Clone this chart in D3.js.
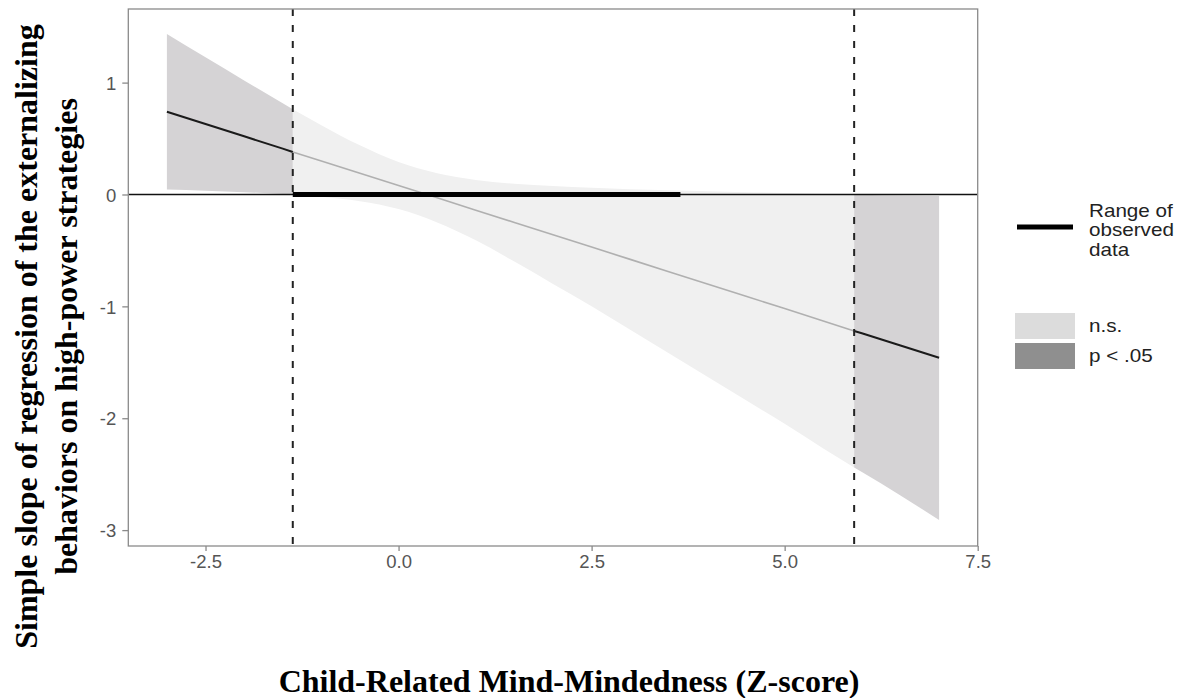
<!DOCTYPE html>
<html lang="en">
<head>
  <meta charset="UTF-8">
  <title>Johnson-Neyman plot: child-related mind-mindedness</title>
  <script src="https://d3js.org/d3.v7.min.js"></script>
  <style>
    body {
      margin: 0;
      background-color: #fff;
    }

    .tick text {
      font-family: "Liberation Sans", Arial, sans-serif;
      font-size: 18.5px;
      fill: #555;
    }

    .title {
      font-family: "Liberation Serif", "Times New Roman", serif;
      font-weight: bold;
      font-size: 32px;
      fill: #000;
    }

    .legend text {
      font-family: "Liberation Sans", Arial, sans-serif;
      font-size: 17.5px;
      fill: #222;
    }
  </style>
</head>
<body>

<div id="chart"></div>

<script>
  // moderator values and the simple slope with its confidence band
  const modX  = [-3, -2.5, -2, -1.5, -1.37, -1, -0.5, 0, 0.5, 1, 1.5, 2, 2.5, 3, 3.5, 4, 4.5, 5, 5.5, 5.9, 6, 6.5, 7];
  const slope = [0.74, 0.63, 0.52, 0.41, 0.38, 0.30, 0.19, 0.08, -0.03, -0.14, -0.25, -0.36, -0.47, -0.58, -0.69, -0.80, -0.91, -1.02, -1.13, -1.22, -1.24, -1.35, -1.46];
  const lower = [0.045, 0.034, 0.021, 0.005, 0.0, -0.02, -0.06, -0.13, -0.25, -0.41, -0.60, -0.80, -1.00, -1.21, -1.42, -1.63, -1.84, -2.05, -2.27, -2.44, -2.48, -2.69, -2.91];
  const upper = [1.435, 1.226, 1.019, 0.816, 0.763, 0.62, 0.44, 0.29, 0.19, 0.13, 0.096, 0.075, 0.06, 0.047, 0.037, 0.028, 0.02, 0.013, 0.005, 0.0, -0.002, -0.008, -0.014];

  const jnBounds = [-1.37, 5.90];      // where the band crosses zero
  const observedRange = [-1.37, 3.65]; // range of observed data

  const xTicks = [-2.5, 0, 2.5, 5, 7.5];
  const yTicks = [-3, -2, -1, 0, 1];

  const legendKeys = ["n.s.", "p < .05"];
  const legendFill = ["#dcdcdc", "#8f8f8f"];

  const width = 1191;
  const height = 698;
  const panel = { left: 128.3, right: 977.7, top: 9, bottom: 546 };

  const svg = d3.select("#chart")
    .append("svg")
    .attr("width", width)
    .attr("height", height);

  const x = d3.scaleLinear().domain([-3.5, 7.5]).range([panel.left, panel.right]);
  const y = d3.scaleLinear().domain([-3.142, 1.658]).range([panel.bottom, panel.top]);

  // plain hyphen for negatives, like the original
  const hyphen = f => d => f(d).replace("\u2212", "-");

  const rows = modX.map((v, i) => ({ x: v, slope: slope[i], lo: lower[i], hi: upper[i] }));

  // split into significant (outside the bounds) and n.s. pieces, sharing the boundary points
  const leftSig = rows.filter(d => d.x <= jnBounds[0]);
  const midNs = rows.filter(d => d.x >= jnBounds[0] && d.x <= jnBounds[1]);
  const rightSig = rows.filter(d => d.x >= jnBounds[1]);

  const area = d3.area()
    .curve(d3.curveMonotoneX)
    .x(d => x(d.x))
    .y0(d => y(d.lo))
    .y1(d => y(d.hi));

  const line = d3.line()
    .x(d => x(d.x))
    .y(d => y(d.slope));

  const plot = svg.append("g");

  plot.append("path").datum(midNs).attr("d", area).attr("fill", "#f0f0f0");
  [leftSig, rightSig].forEach(seg => {
    plot.append("path").datum(seg).attr("d", area).attr("fill", "#d5d3d5");
  });

  plot.append("path").datum(midNs).attr("d", line)
    .attr("fill", "none").attr("stroke", "#b0b0b0").attr("stroke-width", 1.6);
  [leftSig, rightSig].forEach(seg => {
    plot.append("path").datum(seg).attr("d", line)
      .attr("fill", "none").attr("stroke", "#1a1a1a").attr("stroke-width", 2);
  });

  // zero line
  plot.append("line")
    .attr("x1", panel.left).attr("x2", panel.right)
    .attr("y1", y(0)).attr("y2", y(0))
    .attr("stroke", "#111").attr("stroke-width", 1.6);

  // range of observed data
  plot.append("line")
    .attr("x1", x(observedRange[0])).attr("x2", x(observedRange[1]))
    .attr("y1", y(0)).attr("y2", y(0))
    .attr("stroke", "#000").attr("stroke-width", 5);

  // Johnson-Neyman boundaries
  plot.selectAll(".jn")
    .data(jnBounds)
    .enter()
    .append("line")
    .attr("x1", d => x(d)).attr("x2", d => x(d))
    .attr("y1", panel.top).attr("y2", panel.bottom)
    .attr("stroke", "#222").attr("stroke-width", 2)
    .attr("stroke-dasharray", "7,9");

  // panel border
  svg.append("rect")
    .attr("x", panel.left).attr("y", panel.top)
    .attr("width", panel.right - panel.left)
    .attr("height", panel.bottom - panel.top)
    .attr("fill", "none").attr("stroke", "#8a8a8a").attr("stroke-width", 1.3);

  const xAxis = svg.append("g")
    .attr("transform", `translate(0,${panel.bottom})`)
    .call(d3.axisBottom(x).tickValues(xTicks).tickFormat(hyphen(d3.format(".1f"))).tickSize(5).tickPadding(4));

  const yAxis = svg.append("g")
    .attr("transform", `translate(${panel.left},0)`)
    .call(d3.axisLeft(y).tickValues(yTicks).tickFormat(hyphen(d3.format("d"))).tickSize(6).tickPadding(6));

  [xAxis, yAxis].forEach(ax => {
    ax.select(".domain").remove();
    ax.selectAll(".tick line").attr("stroke", "#8a8a8a").attr("stroke-width", 1.3);
  });
  yAxis.selectAll(".tick text").attr("dy", "0.36em");

  // axis titles
  svg.append("text")
    .attr("class", "title")
    .attr("x", 569)
    .attr("y", 692)
    .attr("text-anchor", "middle")
    .text("Child-Related Mind-Mindedness (Z-score)");

  const yTitle = svg.append("text")
    .attr("class", "title")
    .attr("transform", "translate(37,336.5) rotate(-90)")
    .attr("text-anchor", "middle");
  yTitle.append("tspan").attr("x", 0).attr("y", 0)
    .text("Simple slope of regression of the externalizing");
  yTitle.append("tspan").attr("x", 0).attr("y", 40)
    .text("behaviors on high-power strategies");

  // legend
  const legend = svg.append("g").attr("class", "legend");

  legend.append("line")
    .attr("x1", 1017).attr("x2", 1073)
    .attr("y1", 227).attr("y2", 227)
    .attr("stroke", "#000").attr("stroke-width", 5);

  // legend labels are a little wider than plain Arial in the original
  const rangeText = legend.append("text")
    .attr("transform", "translate(1089,0) scale(1.18,1)");
  ["Range of", "observed", "data"].forEach((t, i) => {
    rangeText.append("tspan").attr("x", 0).attr("y", 217 + i * 19.5).text(t);
  });

  const keys = legend.selectAll(".key")
    .data(legendKeys)
    .enter()
    .append("g")
    .attr("transform", (d, i) => `translate(1015,${313 + i * 30})`);

  keys.append("rect")
    .attr("width", 60).attr("height", 26)
    .attr("fill", (d, i) => legendFill[i]);

  keys.append("text")
    .attr("transform", "translate(74,19) scale(1.18,1)")
    .text(d => d);
</script>

</body>
</html>
